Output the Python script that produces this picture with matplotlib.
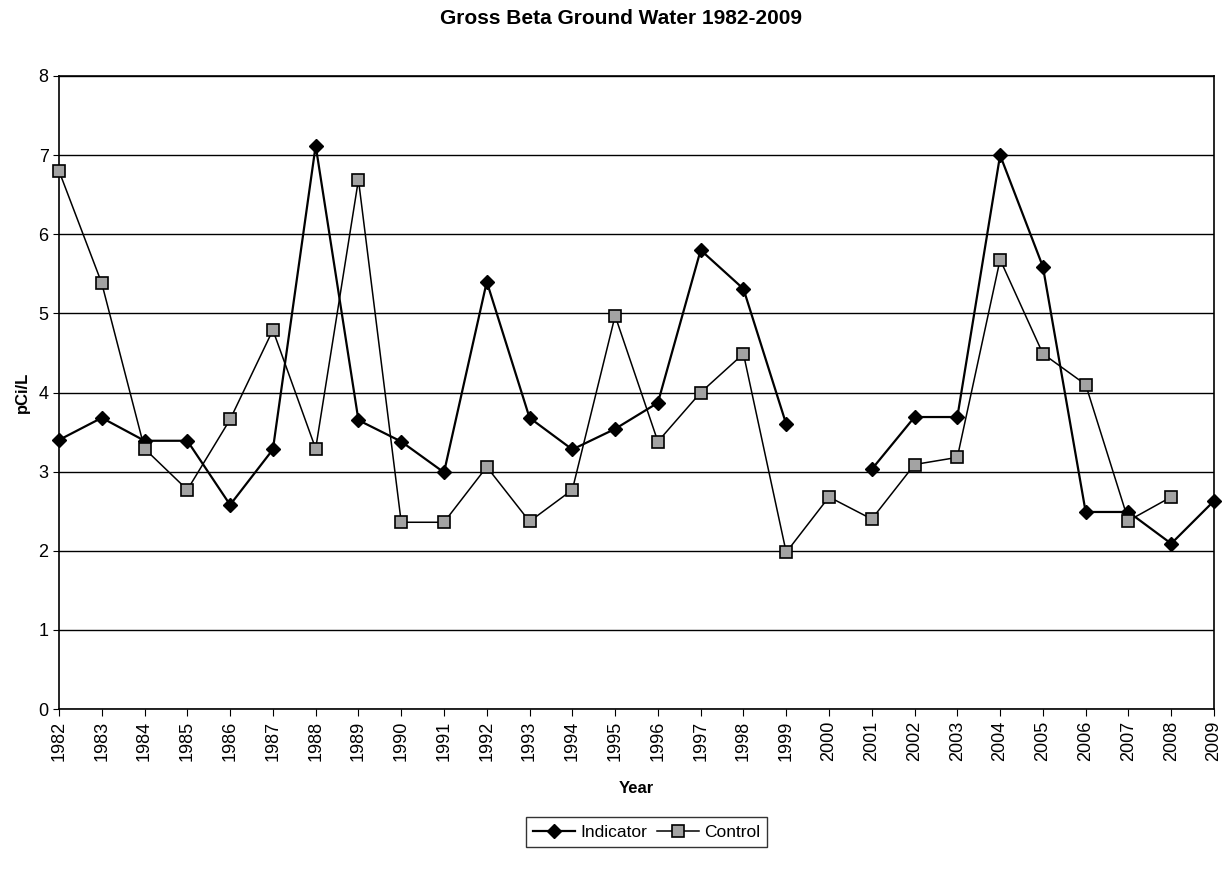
import numpy as np
import matplotlib
matplotlib.use("Agg")
import matplotlib.pyplot as plt

plt.rcParams['font.family'] = ['Liberation Sans', 'DejaVu Sans']

# Data (NaN = no sample that year)
years = list(range(1982, 2010))
indicator = [3.40, 3.68, 3.39, 3.39, 2.58, 3.28, 7.12, 3.65, 3.38, 2.99,
             5.40, 3.68, 3.28, 3.54, 3.87, 5.80, 5.31, 3.60, np.nan, 3.03,
             3.69, 3.69, 7.00, 5.59, 2.49, 2.49, 2.09, 2.63]
control = [6.80, 5.38, 3.29, 2.77, 3.66, 4.79, 3.29, 6.69, 2.36, 2.36,
           3.06, 2.37, 2.77, 4.97, 3.38, 4.00, 4.49, 1.98, 2.68, 2.40,
           3.09, 3.18, 5.68, 4.49, 4.10, 2.38, 2.68, np.nan]

fig = plt.figure(figsize=(12.27, 8.75), dpi=100)
ax = fig.add_axes([59 / 1227, 1 - 709 / 875, (1214 - 59) / 1227, (709 - 76) / 875])

ax.plot(years, indicator, color='black', lw=1.6, marker='D', markersize=7,
        markerfacecolor='black', markeredgecolor='black', label='Indicator',
        zorder=3, clip_on=False)
ax.plot(years, control, color='black', lw=1.1, marker='s', markersize=9,
        markerfacecolor='#a3a3a3', markeredgecolor='black', markeredgewidth=1.2,
        label='Control', zorder=3, clip_on=False)

ax.set_xlim(1982, 2009)
ax.set_ylim(0, 8)
ax.set_xticks(years)
ax.set_xticklabels([str(y) for y in years], rotation=90, fontsize=13)
ax.set_yticks(range(0, 9))
ax.tick_params(axis='y', labelsize=13, length=4, direction='out', color='black')
ax.tick_params(axis='x', length=5, direction='out', color='black')
ax.yaxis.grid(True, color='black', lw=1.0)
ax.set_axisbelow(True)
for s in ax.spines.values():
    s.set_color('black')
    s.set_linewidth(1.2)

ax.set_xlabel('Year', fontsize=12, fontweight='bold', labelpad=14)
ax.set_ylabel('pCi/L', fontsize=12, fontweight='bold', labelpad=6)
fig.suptitle('Gross Beta Ground Water 1982-2009', fontsize=15, fontweight='bold',
             x=0.506, y=1 - 18 / 875, va='center')

leg = fig.legend(loc='center', bbox_to_anchor=(0.527, 1 - 832 / 875), ncol=2,
                 frameon=True, fancybox=False, edgecolor='black', fontsize=12.5,
                 handlelength=2.4, handletextpad=0.3, columnspacing=0.6,
                 borderpad=0.4)
leg.get_frame().set_linewidth(1.0)

fig.savefig('out.png', dpi=100)
